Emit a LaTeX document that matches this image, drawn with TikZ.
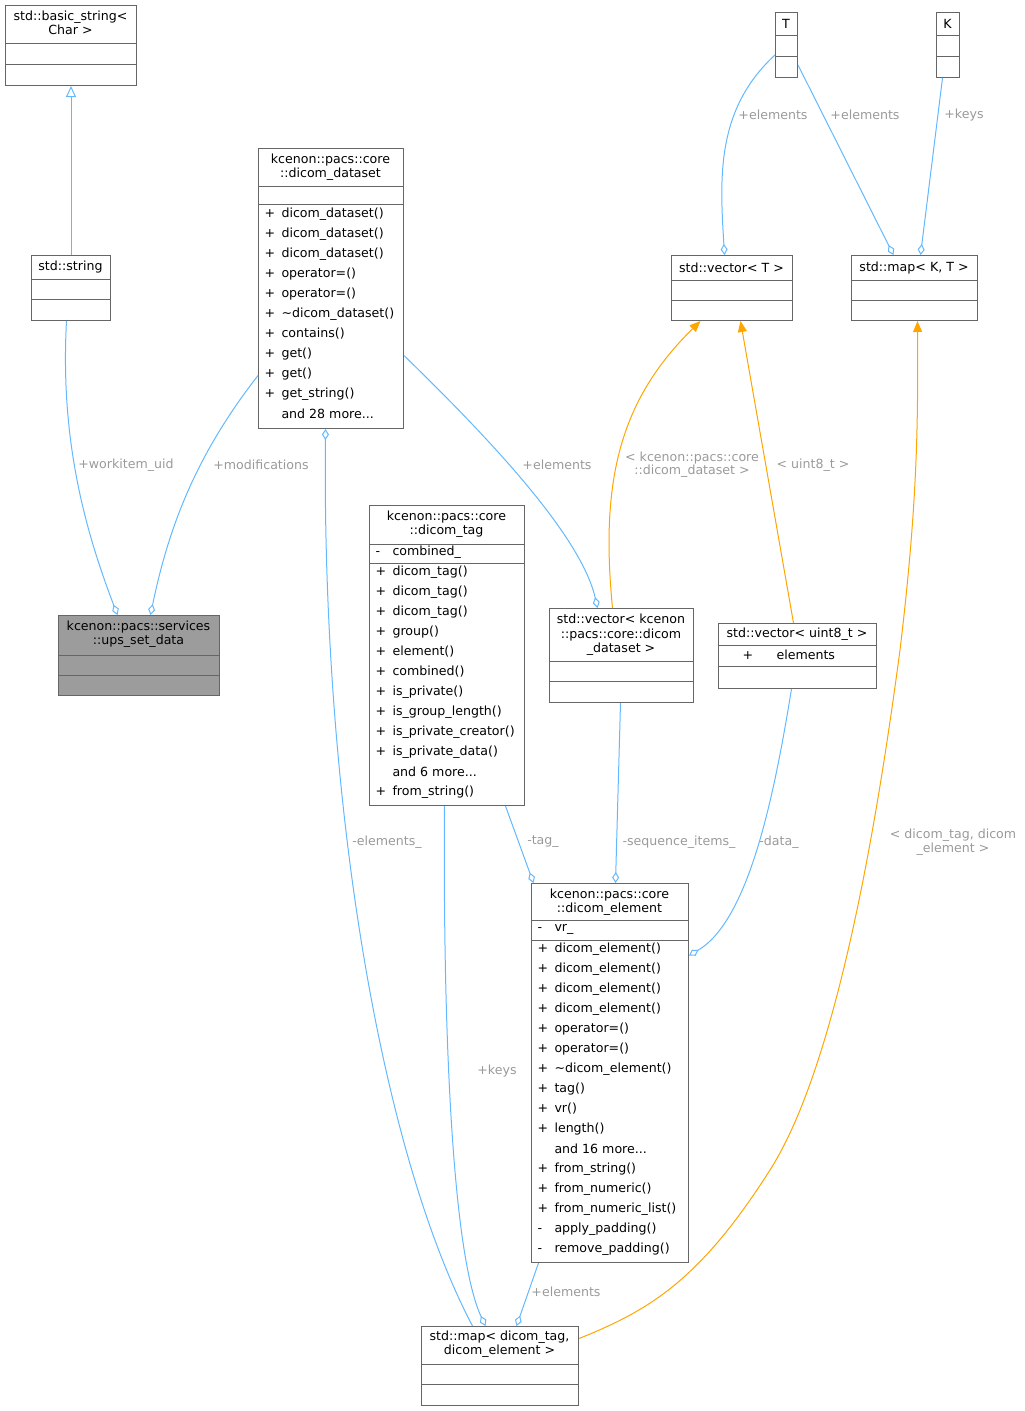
\documentclass[tikz,border=0pt]{standalone}
\usepackage{fontspec}
\setmainfont{DejaVu Sans}
\usetikzlibrary{arrows.meta}
\definecolor{edgeblue}{HTML}{63B8FF}
\definecolor{edgeorange}{HTML}{FFA500}
\definecolor{lblgray}{HTML}{9A9A9A}
\definecolor{boxgray}{HTML}{666666}
\newcommand\umlbox[6][white]{%
  \node[box, fill=#1, minimum width={#5-#3}, minimum height={#6-#4}] (#2) at (#3,#4) {};}
\newcommand\sep[3]{\draw[boxgray] (#1,#3) -- (#2,#3);}
\newcommand\mem[4]{\node[mtxt] at (#1,#2) {\makebox[17pt][l]{#3}#4};}
\begin{document}
\begin{tikzpicture}[x=1pt, y=-1pt, line width=1pt,
  box/.style={draw=boxgray, rectangle, anchor=north west, inner sep=0pt},
  mtxt/.style={anchor=west, inner sep=0pt, font=\fontsize{12.6}{14}\selectfont},
  ttl/.style={align=center, inner sep=0pt, font=\fontsize{12.6}{14.5}\selectfont},
  lbl/.style={align=center, inner sep=0pt, text=lblgray, font=\fontsize{12.6}{9.5}\selectfont},
  agg/.style={draw=edgeblue, -{Diamond[open, length=11pt, width=7pt]}},
  inh/.style={draw=edgeblue, -{Triangle[open, length=11pt, width=10pt]}},
  tpl/.style={draw=edgeorange, -{Triangle[length=11pt, width=9pt]}}]
\useasboundingbox (0,0) rectangle (1025,1411);
% Classes
\umlbox{bstr}{5}{5}{136}{85}
\node[ttl] at (70.5,23) {std::basic\_string<\\Char >};
\sep{5}{136}{43}\sep{5}{136}{64}
\umlbox{str}{31}{255}{110}{320}
\node[ttl] at (70.5,267) {std::string};
\sep{31}{110}{279}\sep{31}{110}{299}
\umlbox[boxgray!65]{ups}{58}{615}{219}{695}
\node[ttl] at (138.5,634) {kcenon::pacs::services\\::ups\_set\_data};
\sep{58}{219}{655}\sep{58}{219}{675}
% dicom_dataset
\umlbox{dset}{258}{148}{403}{428}
\node[ttl] at (330.5,167) {kcenon::pacs::core\\::dicom\_dataset};
\sep{258}{403}{186}\sep{258}{403}{204}
\foreach \nm [count=\i from 0] in {dicom\_dataset(), dicom\_dataset(), dicom\_dataset(),
  operator=(), operator=(), \textasciitilde dicom\_dataset(), contains(), get(), get(), get\_string()}
  {\mem{264}{214+20*\i}{+}{\nm}}
\mem{264}{414}{}{and 28 more...}
% dicom_tag
\umlbox{tag}{369}{505}{524}{805}
\node[ttl] at (446.5,524) {kcenon::pacs::core\\::dicom\_tag};
\sep{369}{524}{544}\sep{369}{524}{563}
\mem{375}{552}{-}{combined\_}
\foreach \nm [count=\i from 0] in {dicom\_tag(), dicom\_tag(), dicom\_tag(), group(), element(),
  combined(), is\_private(), is\_group\_length(), is\_private\_creator(), is\_private\_data()}
  {\mem{375}{572+20*\i}{+}{\nm}}
\mem{375}{772}{}{and 6 more...}
\mem{375}{792}{+}{from\_string()}
% templates
\umlbox{vT}{671}{255}{792}{320}
\node[ttl] at (731.5,268) {std::vector< T >};
\sep{671}{792}{280}\sep{671}{792}{300}
\umlbox{mKT}{851}{255}{977}{320}
\node[ttl] at (914,268) {std::map< K, T >};
\sep{851}{977}{280}\sep{851}{977}{300}
\umlbox{T}{775}{12}{797}{77}
\node[ttl] at (786,24) {T};
\sep{775}{797}{35}\sep{775}{797}{56}
\umlbox{K}{936}{12}{959}{77}
\node[ttl] at (947.5,24) {K};
\sep{936}{959}{35}\sep{936}{959}{56}
% vectors
\umlbox{vds}{549}{608}{693}{702}
\node[ttl] at (621,635) {std::vector< kcenon\\::pacs::core::dicom\\\_dataset >};
\sep{549}{693}{661}\sep{549}{693}{681}
\umlbox{vu8}{718}{623}{876}{688}
\node[ttl] at (797,634) {std::vector< uint8\_t >};
\sep{718}{876}{645}\sep{718}{876}{666}
\node[mtxt] at (742,655) {\makebox[34pt][l]{+}elements};
% dicom_element
\umlbox{elem}{531}{883}{688}{1262}
\node[ttl] at (609.5,902) {kcenon::pacs::core\\::dicom\_element};
\sep{531}{688}{920}\sep{531}{688}{940}
\mem{537}{929}{-}{vr\_}
\foreach \nm [count=\i from 0] in {dicom\_element(), dicom\_element(), dicom\_element(), dicom\_element(),
  operator=(), operator=(), \textasciitilde dicom\_element(), tag(), vr(), length()}
  {\mem{537}{949+20*\i}{+}{\nm}}
\mem{537}{1149}{}{and 16 more...}
\mem{537}{1169}{+}{from\_string()}
\mem{537}{1189}{+}{from\_numeric()}
\mem{537}{1209}{+}{from\_numeric\_list()}
\mem{537}{1229}{-}{apply\_padding()}
\mem{537}{1249}{-}{remove\_padding()}
% map
\umlbox{map}{421}{1326}{578}{1405}
\node[ttl] at (499.5,1344) {std::map< dicom\_tag,\\dicom\_element >};
\sep{421}{578}{1364}\sep{421}{578}{1384}
% Relations
\draw[inh] (str.north) -- (bstr.south);
\draw[agg] ([xshift=-4.5]str.south) .. controls (60,440) and (85,530) .. ([xshift=-21.5]ups.north);
\draw[agg] ([yshift=-87]dset.west) .. controls (200,450) and (170,520) .. ([xshift=11.5]ups.north);
\draw[agg] ([xshift=-27.5]map.north) .. controls (380,1150) and (322,800) .. ([xshift=-5.5]dset.south);
\draw[agg] ([xshift=-2.5]tag.south) .. controls (443,1000) and (450,1250) .. ([xshift=-14.5]map.north);
\draw[agg] ([xshift=58.5]tag.south) -- ([xshift=-76.5]elem.north);
\draw[agg] ([xshift=-1]vds.south) -- ([xshift=5.5]elem.north);
\draw[agg] ([xshift=-6]vu8.south) .. controls (775,790) and (750,920) .. ([yshift=117.5]elem.east);
\draw[agg] ([xshift=-71.5]elem.south) -- ([xshift=16.5]map.north);
\draw[agg] ([yshift=-67]dset.east) .. controls (470,420) and (580,530) .. ([xshift=-24]vds.north);
\draw[agg] ([yshift=-10]T.west) .. controls (715,110) and (720,180) .. ([xshift=-7.5]vT.north);
\draw[agg] ([yshift=-20]T.east) -- ([xshift=-21]mKT.north);
\draw[agg] ([xshift=-5.5]K.south) -- ([xshift=6]mKT.north);
\draw[tpl] ([xshift=-9]vds.north) .. controls (600,480) and (620,400) .. ([xshift=-31.5]vT.south);
\draw[tpl] ([xshift=-4]vu8.north) -- ([xshift=8.5]vT.south);
\draw[tpl] ([yshift=27.5]map.east) .. controls (650,1310) and (700,1280) .. (770,1170)
  .. controls (840,1060) and (880,800) .. (900,650) .. controls (918,500) and (918,420) .. ([xshift=3]mKT.south);
% Labels
\node[lbl] at (126,465) {+workitem\_uid};
\node[lbl] at (261,465) {+modifications};
\node[lbl] at (557,465) {+elements};
\node[lbl] at (387,842) {-elements\_};
\node[lbl] at (497,1071) {+keys};
\node[lbl] at (543,842) {-tag\_};
\node[lbl] at (679,842) {-sequence\_items\_};
\node[lbl] at (779,842) {-data\_};
\node[lbl] at (566,1292) {+elements};
\node[lbl] at (773,115) {+elements};
\node[lbl] at (865,115) {+elements};
\node[lbl] at (964,115) {+keys};
\node[lbl] at (692,465) {< kcenon::pacs::core\\::dicom\_dataset >};
\node[lbl] at (813,465) {< uint8\_t >};
\node[lbl] at (953,842) {< dicom\_tag, dicom\\\_element >};
\end{tikzpicture}
\end{document}
